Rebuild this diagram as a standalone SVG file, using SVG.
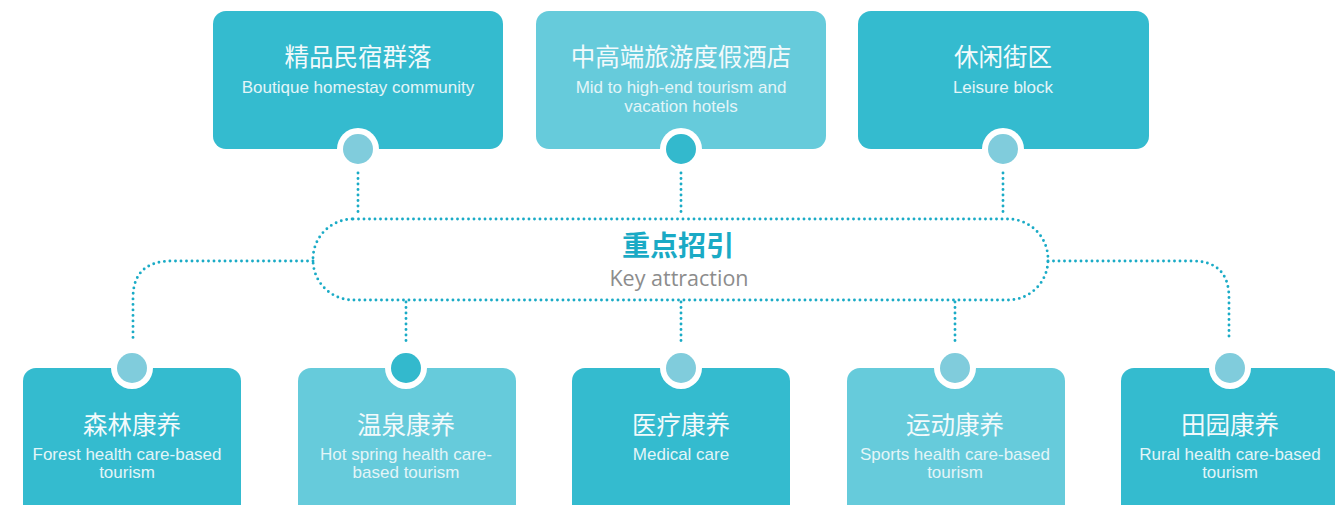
<svg xmlns="http://www.w3.org/2000/svg" width="1335" height="505" viewBox="0 0 1335 505">
<style>
.dk{fill:#34bbcf}
.lt{fill:#66cbdb}
.ring{fill:#ffffff}
.cl{fill:#80ccdc}
.cd{fill:#33b9cd}
.dot{fill:none;stroke:#1aabc6;stroke-width:2.9;stroke-linecap:round;stroke-dasharray:0 5.5}
.zh{font-family:"Noto Sans CJK SC","Noto Sans",sans-serif;font-size:24.5px;fill:#f2fafc;text-anchor:middle}
.en{font-family:"Liberation Sans",Arial,sans-serif;font-size:17px;fill:#e3f5f8;text-anchor:middle}
</style>
<rect width="1335" height="505" fill="#ffffff"/>
<g id="connectors">
<rect class="dot" x="313" y="219" width="735" height="81" rx="40" ry="40"/>
<path class="dot" d="M358 173V217"/>
<path class="dot" d="M681 173V217"/>
<path class="dot" d="M1003 173V217"/>
<path class="dot" d="M406 302V346"/>
<path class="dot" d="M681 302V346"/>
<path class="dot" d="M955 302V346"/>
<path class="dot" d="M313 261H172Q133 261 133 298V341"/>
<path class="dot" d="M1048 261H1192Q1229 261 1229 298V341"/>
</g>
<g id="center">
<text x="678" y="256" font-family="'Noto Sans CJK SC',sans-serif" font-size="28" font-weight="bold" fill="#1aaac5" text-anchor="middle">重点招引</text>
<text x="679" y="286" font-family="'Open Sans','Liberation Sans',sans-serif" font-size="21.5" fill="#8c8c8c" text-anchor="middle">Key attraction</text>
</g>
<g id="top1">
<rect class="dk" x="213" y="11" width="290" height="138" rx="13"/>
<circle class="ring" cx="358" cy="149" r="21"/><circle class="cl" cx="358" cy="149" r="15"/>
<text class="zh" x="358" y="66">精品民宿群落</text>
<text class="en" x="358" y="93">Boutique homestay community</text>
</g>
<g id="top2">
<rect class="lt" x="536" y="11" width="290" height="138" rx="13"/>
<circle class="ring" cx="681" cy="149" r="21"/><circle class="cd" cx="681" cy="149" r="15"/>
<text class="zh" x="681" y="66">中高端旅游度假酒店</text>
<text class="en" x="681" y="93">Mid to high-end tourism and</text>
<text class="en" x="681" y="112">vacation hotels</text>
</g>
<g id="top3">
<rect class="dk" x="858" y="11" width="291" height="138" rx="13"/>
<circle class="ring" cx="1003" cy="149" r="21"/><circle class="cl" cx="1003" cy="149" r="15"/>
<text class="zh" x="1003" y="66">休闲街区</text>
<text class="en" x="1003" y="93">Leisure block</text>
</g>
<g id="bot1">
<rect class="dk" x="23" y="368" width="218" height="160" rx="13"/>
<circle class="ring" cx="132" cy="368" r="21"/><circle class="cl" cx="132" cy="368" r="15"/>
<text class="zh" x="132" y="434">森林康养</text>
<text class="en" x="127" y="460">Forest health care-based</text>
<text class="en" x="127" y="478">tourism</text>
</g>
<g id="bot2">
<rect class="lt" x="298" y="368" width="218" height="160" rx="13"/>
<circle class="ring" cx="406" cy="368" r="21"/><circle class="cd" cx="406" cy="368" r="15"/>
<text class="zh" x="406" y="434">温泉康养</text>
<text class="en" x="406" y="460">Hot spring health care-</text>
<text class="en" x="406" y="478">based tourism</text>
</g>
<g id="bot3">
<rect class="dk" x="572" y="368" width="218" height="160" rx="13"/>
<circle class="ring" cx="681" cy="368" r="21"/><circle class="cl" cx="681" cy="368" r="15"/>
<text class="zh" x="681" y="434">医疗康养</text>
<text class="en" x="681" y="460">Medical care</text>
</g>
<g id="bot4">
<rect class="lt" x="847" y="368" width="218" height="160" rx="13"/>
<circle class="ring" cx="955" cy="368" r="21"/><circle class="cl" cx="955" cy="368" r="15"/>
<text class="zh" x="955" y="434">运动康养</text>
<text class="en" x="955" y="460">Sports health care-based</text>
<text class="en" x="955" y="478">tourism</text>
</g>
<g id="bot5">
<rect class="dk" x="1121" y="368" width="218" height="160" rx="13"/>
<circle class="ring" cx="1230" cy="368" r="21"/><circle class="cl" cx="1230" cy="368" r="15"/>
<text class="zh" x="1230" y="434">田园康养</text>
<text class="en" x="1230" y="460">Rural health care-based</text>
<text class="en" x="1230" y="478">tourism</text>
</g>
</svg>
